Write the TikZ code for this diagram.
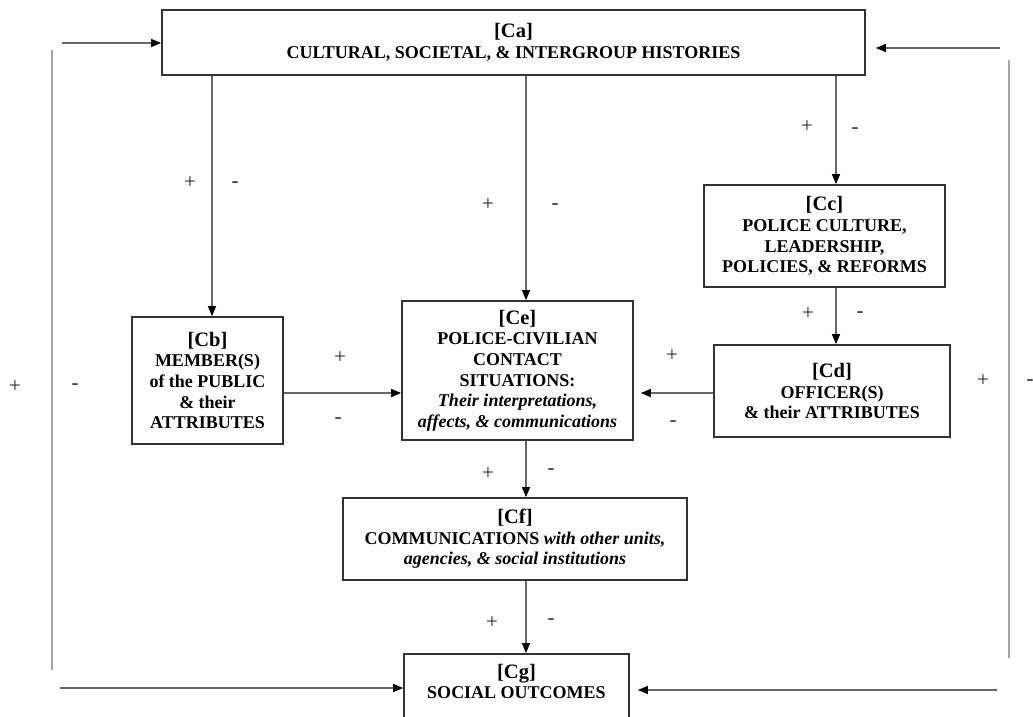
\documentclass[tikz,border=0pt]{standalone}
\usepackage{fontspec}
\setmainfont{Liberation Serif}
\usepackage{tikz}
\usetikzlibrary{arrows.meta,positioning,calc}

\newcommand{\boxhead}[1]{{\fontsize{20.5}{20.6}\selectfont[#1]}}

\begin{document}
\begin{tikzpicture}[
  x=1pt, y=-1pt,
  font=\fontsize{18}{20.6}\selectfont\bfseries,
  box/.style={draw=black!80, line width=1.7pt, align=center, inner sep=2pt},
  fl/.style={draw=black!60, line width=1.4pt, -{Triangle[length=10pt, width=8pt, color=black]}},
  loopline/.style={draw=black!35, line width=1.4pt},
  sgn/.style={font=\fontsize{21}{21}\selectfont\mdseries, text=black!85, inner sep=0pt},
]
\useasboundingbox (0,0) rectangle (1033,716);

% ---------- boxes ----------
\node[box, minimum width=703pt, minimum height=65pt] (Ca) at (513.5,42.5)
  {\boxhead{Ca}\\CULTURAL, SOCIETAL, \& INTERGROUP HISTORIES};
\node[box, minimum width=151pt, minimum height=127pt] (Cb) at (207.5,380.5)
  {\boxhead{Cb}\\MEMBER(S)\\of the PUBLIC\\\& their\\ATTRIBUTES};
\node[box, minimum width=231pt, minimum height=139pt] (Ce) at (517.5,370.5)
  {\boxhead{Ce}\\POLICE-CIVILIAN\\CONTACT\\SITUATIONS:\\\textit{Their interpretations,}\\\textit{affects, \& communications}};
\node[box, minimum width=241pt, minimum height=102pt] (Cc) at (824.5,236)
  {\boxhead{Cc}\\POLICE CULTURE,\\LEADERSHIP,\\POLICIES, \& REFORMS};
\node[box, minimum width=236pt, minimum height=92pt] (Cd) at (832,391)
  {\boxhead{Cd}\\OFFICER(S)\\\& their ATTRIBUTES};
\node[box, minimum width=344pt, minimum height=82pt] (Cf) at (515,539)
  {\boxhead{Cf}\\COMMUNICATIONS \textit{with other units,}\\\textit{agencies, \& social institutions}};
\node[box, minimum width=225pt, anchor=north, inner ysep=10pt, text depth=40pt] (Cg) at (516.5,653)
  {\boxhead{Cg}\\SOCIAL OUTCOMES};

% ---------- arrows between boxes ----------
\coordinate (lspine) at (212,0);
\coordinate (spine) at (526,0);
\coordinate (rspine) at (836,0);
\coordinate (mid) at (0,393);

\foreach \a/\b/\c in {Ca/Cb/lspine, Ca/Ce/spine, Ca/Cc/rspine, Cc/Cd/rspine, Ce/Cf/spine, Cf/Cg/spine}
  \draw[fl] (\a.south -| \c) -- (\b.north -| \c);
\draw[fl] (Cb.east |- mid) -- (Ce.west |- mid);
\draw[fl, shorten >=7pt] (Cd.west |- mid) -- (Ce.east |- mid);

% ---------- feedback loops ----------
\coordinate (lt) at (62,43);
\coordinate (lb) at (60,688);
\coordinate (ltop) at (52,50);
\coordinate (lbot) at (52,670);
\coordinate (rt) at (1000,48);
\coordinate (rb) at (997,690);
\coordinate (rtop) at (1009,60);
\coordinate (rbot) at (1009,658);

\draw[loopline] (ltop) -- (lbot);
\draw[loopline] (rtop) -- (rbot);
\draw[fl] (lt) -- (Ca.west |- lt);
\draw[fl] (lb) -- (Cg.west |- lb);
\draw[fl, shorten >=10pt] (rt) -- (Ca.east |- rt);
\draw[fl, shorten >=8pt] (rb) -- (Cg.east |- rb);

% ---------- signs ----------
\foreach \n/\x/\y/\s in {pab/190/183/+, mab/235/185/-, pae/488/205/+, mae/555/207/-,
    pac/807/127/+, mac/855/131/-, pcd/808/314/+, mcd/860/315/-,
    pbe/340/358/+, mbe/338/421/-, pde/672/356/+, mde/673/424/-,
    pef/488/474/+, mef/551/472/-, pfg/492/623/+, mfg/551/622/-,
    pl/15/387/+, ml/75/387/-, pr/983/381/+, mr/1030/383/-}
  \node[sgn] (\n) at (\x,\y) {\s};

\end{tikzpicture}
\end{document}
